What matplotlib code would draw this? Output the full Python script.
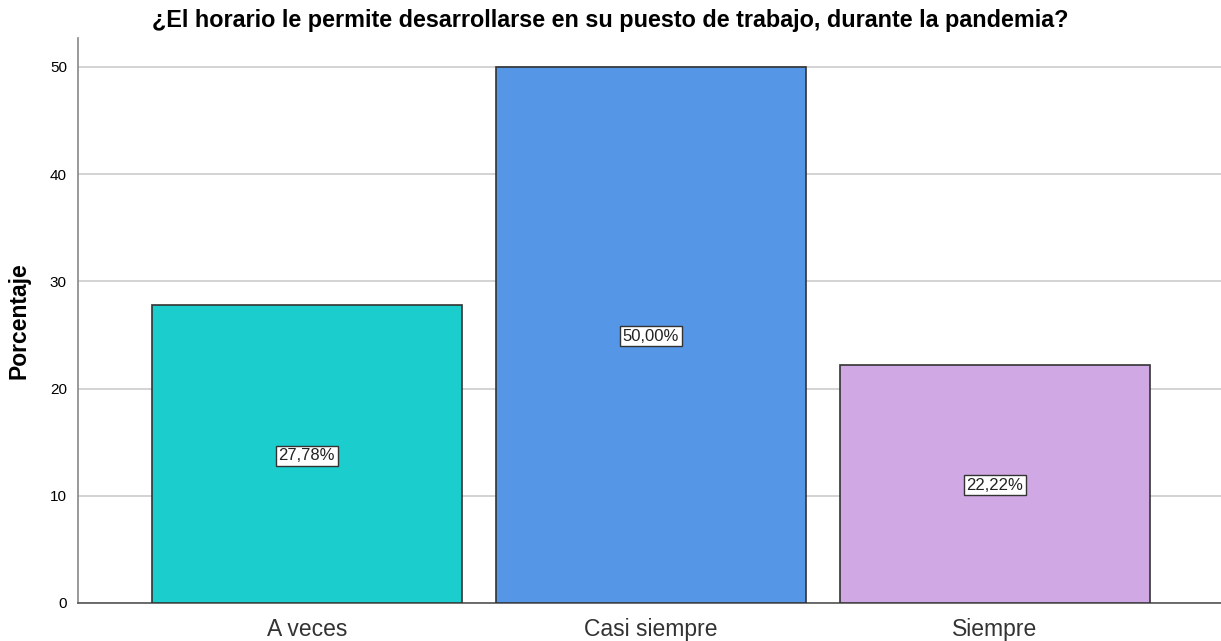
import matplotlib
matplotlib.use("Agg")
import matplotlib.pyplot as plt

categories = ["A veces", "Casi siempre", "Siempre"]
values = [27.78, 50.00, 22.22]
labels = ["27,78%", "50,00%", "22,22%"]
colors = ["#1ccdcd", "#5596e6", "#d0a8e3"]
yticks = [0, 10, 20, 30, 40, 50]

plt.rcParams['font.family'] = ['Liberation Sans', 'DejaVu Sans']
fig = plt.figure(figsize=(12.21, 6.41), dpi=100)
ax = fig.add_axes([78/1221, 38/641, 1 - 78/1221, (603-38)/641])

x = list(range(len(categories)))
ax.bar(x, values, width=0.9, color=colors, edgecolor="#333333", linewidth=1.2, zorder=3)
for xi, v, lab in zip(x, values, labels):
    ax.text(xi, v/2, lab, ha="center", va="center_baseline", fontsize=12, color="#222222", zorder=4,
            bbox=dict(boxstyle="square,pad=0.15", facecolor="white", edgecolor="#333333", linewidth=1))

ax.set_xlim(-0.665, 2.657)
ax.set_ylim(0, 52.7)
ax.set_yticks(yticks)
ax.set_yticklabels([str(t) for t in yticks], fontsize=11)
ax.set_xticks(x)
ax.set_xticklabels(categories, fontsize=16.5, color="#333333")
ax.tick_params(axis="both", length=0)
ax.tick_params(axis="y", pad=8)
ax.tick_params(axis="x", pad=11)
ax.yaxis.grid(True, color="#cccccc", linewidth=1.2, zorder=0)
ax.set_axisbelow(True)
for s in ["top", "right"]:
    ax.spines[s].set_visible(False)
ax.spines["left"].set_color("#888888")
ax.spines["bottom"].set_color("#555555")
ax.spines["left"].set_linewidth(1.2)
ax.spines["bottom"].set_linewidth(1.2)

ax.set_ylabel("Porcentaje", fontsize=16.5, fontweight="bold", labelpad=14)
fig.text(0.5, 1 - 20/641, "¿El horario le permite desarrollarse en su puesto de trabajo, durante la pandemia?",
         ha="center", va="center", fontsize=16.8, fontweight="bold")

fig.savefig("out.png", dpi=100)
